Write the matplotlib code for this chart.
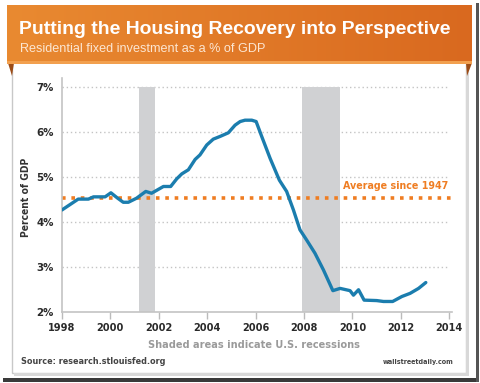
#!/usr/bin/env python3
"""Residential fixed investment as a share of GDP, 1998-2013."""

import matplotlib

matplotlib.use("Agg")
import matplotlib.pyplot as plt
import numpy as np
from matplotlib.patches import Polygon, Rectangle

# values (year, percent of GDP)
YEARS = [1998.0, 1998.67, 1999.09, 1999.3, 1999.78, 2000.02, 2000.3, 2000.53,
         2000.74, 2001.08, 2001.46, 2001.7, 2002.19, 2002.49, 2002.74, 2002.95,
         2003.22, 2003.5, 2003.7, 2003.98, 2004.25, 2004.53, 2004.87, 2005.15,
         2005.36, 2005.56, 2005.84, 2006.02, 2006.25, 2006.6, 2006.98, 2007.28,
         2007.56, 2007.83, 2008.11, 2008.45, 2008.8, 2009.19, 2009.49, 2009.9,
         2010.04, 2010.25, 2010.48, 2011.0, 2011.28, 2011.66, 2012.04, 2012.38,
         2012.73, 2013.03]
PCT = [4.27, 4.51, 4.51, 4.56, 4.56, 4.65, 4.53, 4.44,
       4.44, 4.53, 4.68, 4.64, 4.79, 4.79, 4.96, 5.07,
       5.16, 5.39, 5.49, 5.71, 5.84, 5.90, 5.98, 6.15,
       6.23, 6.26, 6.26, 6.23, 5.90, 5.41, 4.93, 4.68,
       4.27, 3.83, 3.60, 3.31, 2.94, 2.48, 2.53, 2.48,
       2.38, 2.50, 2.27, 2.26, 2.24, 2.24, 2.35, 2.42,
       2.53, 2.66]
RECESSIONS = [(2001.17, 2001.83), (2007.92, 2009.5)]
AVERAGE = 4.54
X_TICKS = list(range(1998, 2015, 2))
Y_TICKS = [2, 3, 4, 5, 6, 7]

W, H = 480, 383
BLUE = "#1B7DAE"
ORANGE = "#EF7D22"
NARROW = dict(family="DejaVu Sans", stretch="condensed", weight="bold")


def px_box(x0, y0, x1, y1):
    """Pixel box (top-left origin) -> figure fraction rect."""
    return [x0 / W, 1 - y1 / H, (x1 - x0) / W, (y1 - y0) / H]


fig = plt.figure(figsize=(W / 100, H / 100), dpi=100)
fig.patch.set_facecolor("white")

# decoration layer in pixel coordinates
bg = fig.add_axes([0, 0, 1, 1])
bg.axis("off")

# outer shadow lines
bg.add_patch(Rectangle((3, 378), 476, 4, color="#3a3a3a", lw=0))
bg.add_patch(Rectangle((476, 3), 3, 379, color="#555555", lw=0))

# white panel
bg.add_patch(Rectangle((12, 60), 454, 313, facecolor="white",
                       edgecolor="#c8c8c8", lw=1.0))
bg.add_patch(Rectangle((466, 64), 3, 311, color="#d8d8d8", lw=0))
bg.add_patch(Rectangle((14, 373), 455, 3, color="#d8d8d8", lw=0))

# banner folds
bg.add_patch(Polygon([(8, 63), (14, 63), (12, 76)], closed=True,
                     color="#9c4c17", lw=0))
bg.add_patch(Polygon([(466, 63), (472, 63), (467, 76)], closed=True,
                     color="#9c4c17", lw=0))

# banner with horizontal gradient
grad = np.linspace(0, 1, 256).reshape(1, -1)
cmap = matplotlib.colors.LinearSegmentedColormap.from_list(
    "banner", ["#E98A31", "#D9691F"])
bg.imshow(grad, cmap=cmap, extent=(7, 472, 64, 5), aspect="auto", zorder=1)
bg.add_patch(Rectangle((7, 61), 465, 3, color="#F2A04F", lw=0, zorder=2))
bg.set_xlim(0, W)
bg.set_ylim(H, 0)

bg.text(19, 27.5, "Putting the Housing Recovery into Perspective",
        family="Liberation Sans", weight="bold", fontsize=13.95,
        color="white", va="center_baseline", ha="left", zorder=3)
bg.text(20, 47.5, "Residential fixed investment as a % of GDP",
        family="Liberation Sans", fontsize=9.1, color="#FCE6D2",
        va="center_baseline", ha="left", zorder=3)

# footer texts
bg.text(254, 345, "Shaded areas indicate U.S. recessions", fontsize=7.8,
        color="#9a9a9a", ha="center", va="center", **NARROW)
bg.text(21, 362, "Source: research.stlouisfed.org", fontsize=6.5,
        color="#444444", ha="left", va="center", **NARROW)
bg.text(454, 362, "wallstreetdaily.com", fontsize=5.1,
        color="#444444", ha="right", va="center", **NARROW)

# main chart
ax = fig.add_axes(px_box(62, 77.8, 449.3, 312.3))
ax.set_xlim(1998, 2014)
ax.set_ylim(2, 7.2)
ax.patch.set_alpha(0)

for start, end in RECESSIONS:
    ax.fill_between([start, end], 2, 7, color="#d0d1d3", lw=0, zorder=1)

for y in Y_TICKS[1:]:
    ax.plot([1998, 2013.9], [y, y], color="#c4c4c4", lw=1.0,
            linestyle=(0, (1, 2)), zorder=0.5)

ax.plot([1998, 2014.1], [AVERAGE, AVERAGE], color=ORANGE, lw=2.6,
        linestyle=(0, (1, 1.6)), zorder=2, clip_on=False)
ax.text(2013.95, AVERAGE + 0.25, "Average since 1947", fontsize=7.7,
        color=ORANGE, ha="right", va="center", **NARROW)

ax.plot(YEARS, PCT, color=BLUE, lw=2.4, solid_capstyle="round",
        solid_joinstyle="round", zorder=3)

ax.set_xticks(X_TICKS)
ax.set_xticklabels([str(t) for t in X_TICKS], fontsize=7.8, color="#2a2a2a",
                   **NARROW)
ax.set_yticks(Y_TICKS)
ax.set_yticklabels([f"{t}%" for t in Y_TICKS], fontsize=8.2, color="#2a2a2a",
                   **NARROW)
ax.tick_params(axis="x", direction="out", length=5, width=1, color="#bbbbbb",
               pad=3)
ax.tick_params(axis="y", length=0, pad=6)
ax.set_ylabel("Percent of GDP", fontsize=7.4, color="#333333", **NARROW)
ax.yaxis.set_label_coords((31 - 62) / (449.3 - 62), 0.49)
for side in ("top", "right"):
    ax.spines[side].set_visible(False)
for side in ("left", "bottom"):
    ax.spines[side].set_color("#c4c4c4")
    ax.spines[side].set_linewidth(1.2)
ax.spines["bottom"].set_bounds(1998, 2014.1)

fig.savefig("out.png", dpi=100)
